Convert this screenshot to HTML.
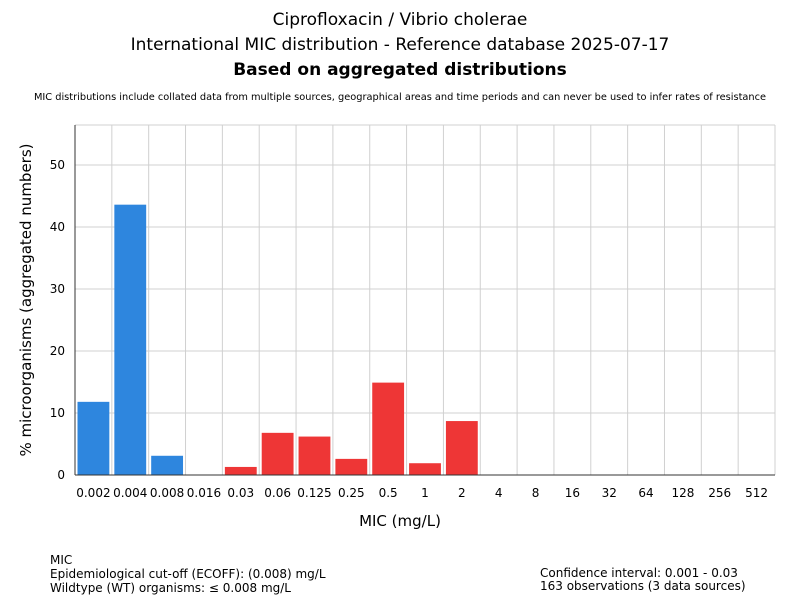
<!DOCTYPE html>
<html><head><meta charset="utf-8"><style>
body{margin:0;background:#fff;font-family:"Liberation Sans","DejaVu Sans",sans-serif;}
</style></head><body>
<svg width="800" height="600" xmlns="http://www.w3.org/2000/svg" font-family="'DejaVu Sans','Liberation Sans',sans-serif">
<text x="400" y="25" text-anchor="middle" font-size="17">Ciprofloxacin / Vibrio cholerae</text>
<text x="400" y="50" text-anchor="middle" font-size="17">International MIC distribution - Reference database 2025-07-17</text>
<text x="400" y="75" text-anchor="middle" font-size="17" font-weight="bold">Based on aggregated distributions</text>
<text x="400" y="100" text-anchor="middle" font-size="9.8">MIC distributions include collated data from multiple sources, geographical areas and time periods and can never be used to infer rates of resistance</text>
<g id="grid"></g>
<g id="bars"></g>
<g id="axes"></g>
<text x="400" y="526" text-anchor="middle" font-size="15">MIC (mg/L)</text>
<text transform="translate(31,300) rotate(-90)" text-anchor="middle" font-size="15">% microorganisms (aggregated numbers)</text>
<g font-size="12">
<text x="50" y="564">MIC</text>
<text x="50" y="578">Epidemiological cut-off (ECOFF): (0.008) mg/L</text>
<text x="50" y="592">Wildtype (WT) organisms: ≤ 0.008 mg/L</text>
</g>
<g font-size="12">
<text x="540" y="577">Confidence interval: 0.001 - 0.03</text>
<text x="540" y="590">163 observations (3 data sources)</text>
</g>
</svg>
<script>
const categories=["0.002","0.004","0.008","0.016","0.03","0.06","0.125","0.25","0.5","1","2","4","8","16","32","64","128","256","512"];
const values=[11.8,43.6,3.1,0,1.3,6.8,6.2,2.6,14.9,1.9,8.7,0,0,0,0,0,0,0,0];
const wildtype=[true,true,true,true,false,false,false,false,false,false,false,false,false,false,false,false,false,false,false];
const yTicks=[0,10,20,30,40,50];
const NS="http://www.w3.org/2000/svg";
const X0=75,X1=775,Y0=475,YT=125,YMAX=56.45;
const bw=(X1-X0)/categories.length;
const xs=i=>X0+i*bw;
const ys=v=>Y0-v/YMAX*(Y0-YT);
function mk(tag,attrs,parent){const e=document.createElementNS(NS,tag);for(const k in attrs)e.setAttribute(k,attrs[k]);parent.appendChild(e);return e;}
const grid=document.getElementById('grid'),bars=document.getElementById('bars'),axes=document.getElementById('axes');
yTicks.forEach(t=>{
  const l=mk('line',{x1:X0,x2:X1,y1:ys(t),y2:ys(t),stroke:'#d0d0d0','stroke-width':1},grid);
  
  
  const tx=mk('text',{x:X0-10,y:ys(t)+4,'text-anchor':'end','font-size':12},axes);
  tx.textContent=t;
  
  
});
mk('line',{x1:X0,x2:X1,y1:YT,y2:YT,stroke:'#d0d0d0'},grid);
for(let i=0;i<=categories.length;i++){
  const l=mk('line',{x1:xs(i),x2:xs(i),y1:YT,y2:Y0,stroke:'#d0d0d0'},grid);
  
  
}
categories.forEach((c,i)=>{
  if(values[i]>0){
    const r=mk('rect',{x:xs(i)+2.5,width:bw-5,y:ys(values[i]),height:Y0-ys(values[i]),fill:wildtype[i]?'#2e86de':'#ee3636'},bars);
    
    
  }
  const tx=mk('text',{x:xs(i)+bw/2,y:Y0+22,'text-anchor':'middle','font-size':12},axes);
  tx.textContent=c;
  
  
});
const xa=mk('line',{x1:X0,x2:X1,y1:Y0,y2:Y0,stroke:'#333'},axes);


const ya=mk('line',{x1:X0,x2:X0,y1:YT,y2:Y0,stroke:'#333'},axes);


</script>
</body></html>
